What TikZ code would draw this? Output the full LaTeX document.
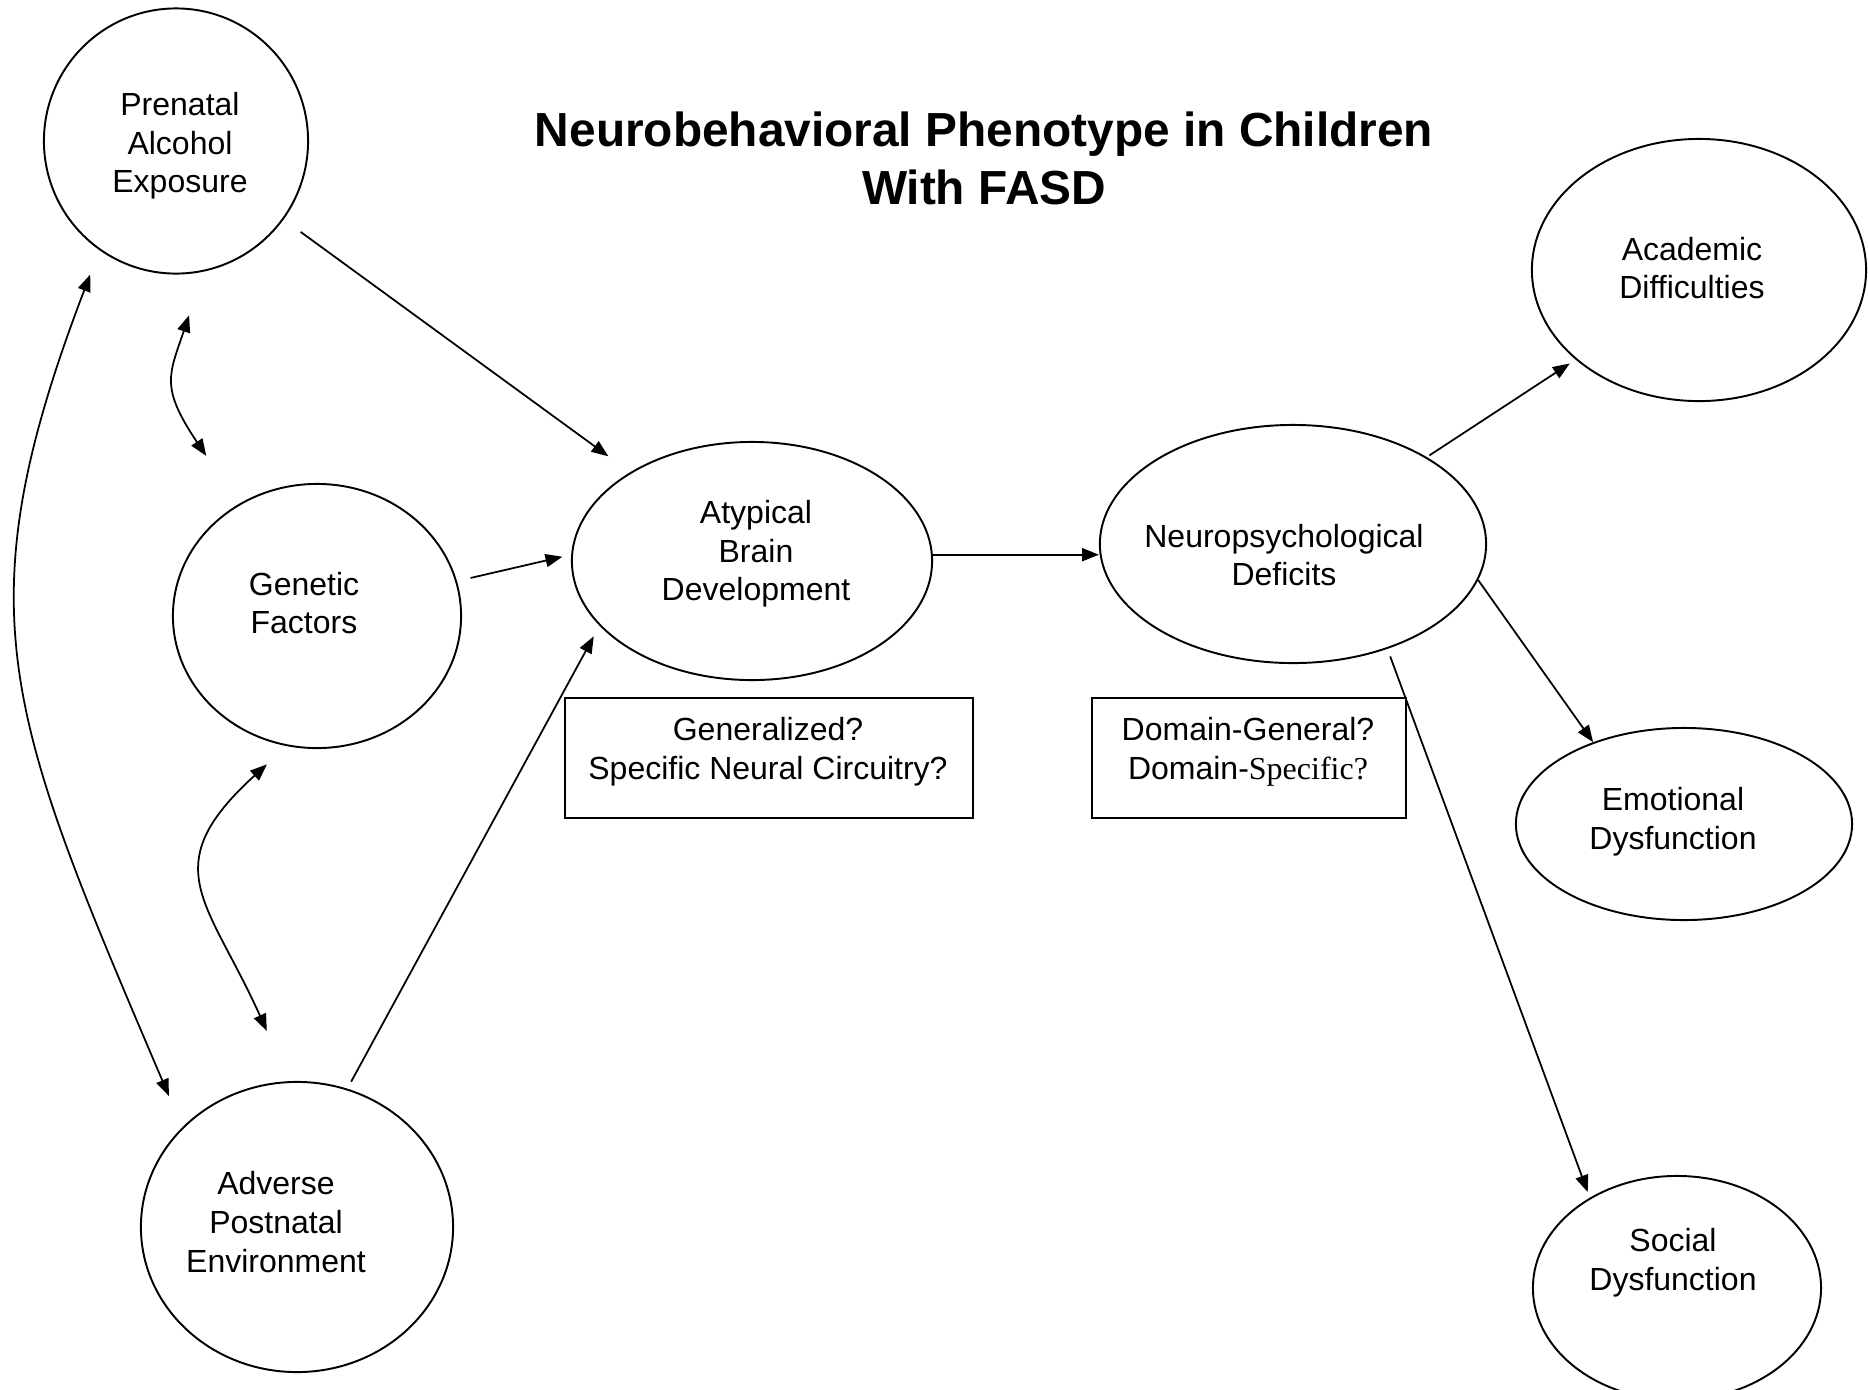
\documentclass[tikz,border=0pt]{standalone}
\usepackage{fontspec}
\setmainfont{Liberation Sans}
\newfontfamily\timesfont{Liberation Serif}
\usepackage{tikz}
\usetikzlibrary{arrows.meta, shapes.geometric}

\begin{document}
\begin{tikzpicture}[x=0.01cm, y=-0.01cm,
    blob/.style={draw, ellipse, line width=0.55pt, inner sep=0pt},
    lbl/.style={align=center, font=\fontsize{9.1}{11}\selectfont, inner sep=0pt},
    qbox/.style={draw, rectangle, line width=0.7pt, inner sep=0pt},
    arr/.style={-{Triangle[length=4.8pt, width=3.7pt]}, line width=0.5pt},
    dbl/.style={{Triangle[length=4.8pt, width=3.7pt]}-{Triangle[length=4.8pt, width=3.7pt]}, line width=0.5pt}]
    \useasboundingbox (0,0) rectangle (1868,1390);
    % title
    \node[align=center, font=\bfseries\fontsize{13.6}{16.5}\selectfont] (title) at (984,158) {Neurobehavioral Phenotype in Children\\With FASD};
    % risk factors
    \node[blob, minimum width=2.64cm, minimum height=2.65cm] (pae) at (176,141) {};
    \node[lbl] (pae-t) at (180,146) {Prenatal\\Alcohol\\Exposure};
    \node[blob, minimum width=2.88cm, minimum height=2.64cm] (gen) at (317,616) {};
    \node[lbl] (gen-t) at (304,603) {Genetic\\Factors};
    \node[blob, minimum width=3.12cm, minimum height=2.90cm] (apn) at (297,1227) {};
    \node[lbl] (apn-t) at (276,1222) {Adverse\\Postnatal\\Environment};
    % brain and deficits
    \node[blob, minimum width=3.60cm, minimum height=2.38cm] (abd) at (752,561) {};
    \node[lbl] (abd-t) at (756,554) {Atypical\\Brain\\Development};
    \node[blob, minimum width=3.86cm, minimum height=2.38cm] (npd) at (1293,544) {};
    \node[lbl] (npd-t) at (1284,555) {Neuropsychological\\Deficits};
    % outcomes
    \node[blob, minimum width=3.34cm, minimum height=2.62cm] (acd) at (1699,270) {};
    \node[lbl] (acd-t) at (1692,268) {Academic\\Difficulties};
    \node[blob, minimum width=3.36cm, minimum height=1.92cm] (emd) at (1684,824) {};
    \node[lbl] (emd-t) at (1673,822) {Emotional\\Dysfunction};
    \node[blob, minimum width=2.88cm, minimum height=2.24cm] (sod) at (1677,1288) {};
    \node[lbl] (sod-t) at (1673,1263) {Social\\Dysfunction};
    % question boxes
    \node[qbox, minimum width=4.08cm, minimum height=1.20cm] (gq) at (769,758) {};
    \node[lbl] (gq-t) at (768,752) {Generalized?\\Specific Neural Circuitry?};
    \node[qbox, minimum width=3.14cm, minimum height=1.20cm] (dq) at (1249,758) {};
    \node[lbl] (dq-t) at (1248,752) {Domain-General?\\Domain-{\timesfont Specific?}};
    % one-way links
    \draw[arr, shorten <=0.21cm, shorten >=0.27cm] (pae) -- (abd);
    \draw[arr, shorten <=0.14cm, shorten >=0.09cm] (gen.14) -- (abd.178);
    \draw[arr, shorten <=0.08cm, shorten >=0.12cm] (apn.70) -- (abd.203);
    \draw[arr] (abd.2) -- (abd.2 -| npd.west);
    \draw[arr, shorten <=0.03cm, shorten >=0.07cm] (npd.33) -- (acd.216);
    \draw[arr] (npd.349) -- (emd.138);
    \draw[arr, shorten <=0.08cm, shorten >=0.06cm] (npd.312) -- (sod.134);
    % two-way links
    \draw[dbl, shorten <=0.26cm, shorten >=0.34cm] (pae.235) .. controls (-39,613) and (7,716) .. (apn.139);
    \draw[dbl, shorten <=0.46cm, shorten >=0.58cm] (pae.282) .. controls (169,375) and (160,387) .. (gen.125);
    \draw[dbl, shorten <=0.27cm, shorten >=0.55cm] (gen.257) .. controls (154,867) and (208,900) .. (apn.93);
\end{tikzpicture}
\end{document}
